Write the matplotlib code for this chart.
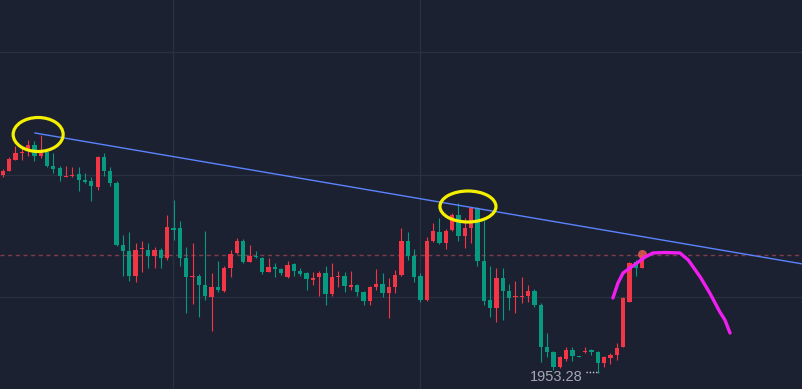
import matplotlib
matplotlib.use("Agg")
import matplotlib.pyplot as plt
from matplotlib.patches import Ellipse
import numpy as np

# OHLC (red = up, green = down)
opens = [1972.5, 1972.9, 1974.0, 1974.7, 1974.9, 1975.5, 1974.4, 1974.8, 1973.4, 1973.2,
         1972.3, 1972.4, 1972.6, 1972.0, 1971.9, 1971.3, 1974.3, 1972.9, 1971.7, 1965.5,
         1964.9, 1962.4, 1965.1, 1965.0, 1964.4, 1965.0, 1964.2, 1967.2, 1967.2, 1964.2,
         1962.3, 1962.4, 1961.5, 1960.3, 1961.3, 1960.9, 1963.2, 1964.7, 1965.9, 1963.8,
         1964.4, 1964.2, 1962.8, 1963.3, 1963.1, 1962.3, 1963.6, 1962.9, 1962.7, 1962.0,
         1962.3, 1962.7, 1960.6, 1962.3, 1962.4, 1961.3, 1961.5, 1960.8, 1959.9, 1961.3,
         1961.6, 1960.7, 1961.3, 1962.5, 1965.9, 1964.4, 1962.4, 1960.0, 1965.9, 1966.8,
         1965.7, 1967.0, 1968.5, 1966.4, 1967.2, 1969.2, 1963.9, 1960.0, 1959.2, 1962.2,
         1960.9, 1960.3, 1960.3, 1960.4, 1960.9, 1959.5, 1955.3, 1954.8, 1953.3, 1954.1,
         1955.0, 1954.4, 1954.8, 1955.0, 1954.8, 1953.7, 1954.2, 1954.5, 1955.3, 1959.8,
         1963.8, 1963.2]
highs = [1973.1, 1974.3, 1975.4, 1975.2, 1976.0, 1975.9, 1976.5, 1974.9, 1974.7, 1973.4,
         1973.4, 1973.3, 1973.3, 1972.7, 1972.3, 1974.4, 1974.7, 1973.3, 1971.9, 1966.5,
         1966.8, 1965.7, 1965.9, 1965.7, 1965.3, 1965.2, 1968.5, 1970.0, 1967.9, 1965.3,
         1965.7, 1962.6, 1966.9, 1962.7, 1963.9, 1963.4, 1965.0, 1966.2, 1966.1, 1965.5,
         1964.9, 1964.3, 1964.2, 1963.7, 1963.2, 1963.9, 1963.7, 1963.2, 1962.8, 1962.8,
         1962.9, 1963.4, 1963.7, 1962.9, 1962.8, 1962.9, 1961.6, 1960.9, 1961.4, 1963.1,
         1962.7, 1962.2, 1963.0, 1967.2, 1966.8, 1965.1, 1962.7, 1966.3, 1967.7, 1968.2,
         1967.1, 1968.7, 1969.7, 1968.2, 1969.3, 1969.3, 1968.0, 1963.4, 1963.2, 1963.2,
         1961.6, 1961.9, 1962.3, 1961.5, 1961.1, 1959.7, 1956.7, 1954.9, 1954.4, 1955.3,
         1955.3, 1954.4, 1955.3, 1955.1, 1954.9, 1954.4, 1954.7, 1955.7, 1960.3, 1963.8,
         1964.0, 1964.8]
lows = [1972.3, 1972.9, 1974.0, 1974.0, 1974.4, 1973.9, 1974.2, 1973.3, 1972.7, 1971.9,
        1972.3, 1972.3, 1970.9, 1971.7, 1969.9, 1971.0, 1972.4, 1971.4, 1965.4, 1962.4,
        1961.9, 1961.8, 1962.8, 1963.2, 1963.2, 1963.2, 1964.0, 1966.0, 1963.4, 1958.7,
        1959.6, 1958.3, 1960.0, 1956.9, 1960.8, 1960.8, 1962.3, 1964.6, 1963.7, 1963.8,
        1964.2, 1962.6, 1962.8, 1962.3, 1962.5, 1962.2, 1962.4, 1962.4, 1961.0, 1961.5,
        1960.4, 1959.5, 1960.4, 1961.3, 1960.8, 1961.0, 1960.4, 1959.5, 1959.5, 1961.0,
        1960.3, 1958.2, 1960.7, 1962.4, 1964.0, 1961.8, 1959.8, 1959.9, 1965.8, 1965.6,
        1965.1, 1966.9, 1965.9, 1965.2, 1965.7, 1963.4, 1959.5, 1958.3, 1957.8, 1958.0,
        1959.0, 1958.7, 1959.7, 1959.8, 1959.3, 1953.8, 1954.3, 1953.0, 1953.2, 1953.9,
        1953.9, 1954.3, 1954.7, 1954.5, 1952.7, 1953.3, 1953.6, 1954.0, 1955.3, 1959.8,
        1962.4, 1963.2]
closes = [1972.9, 1974.1, 1974.7, 1974.8, 1975.5, 1974.4, 1974.8, 1973.4, 1973.1, 1972.4,
          1972.4, 1972.5, 1972.0, 1971.8, 1971.4, 1974.3, 1972.9, 1971.7, 1965.5, 1964.9,
          1962.4, 1965.0, 1965.2, 1964.4, 1965.0, 1964.2, 1967.3, 1967.0, 1964.2, 1962.3,
          1962.4, 1961.5, 1960.4, 1961.3, 1961.0, 1963.2, 1964.6, 1965.9, 1963.8, 1964.4,
          1964.3, 1962.8, 1963.3, 1963.1, 1962.7, 1963.5, 1962.9, 1962.6, 1962.1, 1962.2,
          1962.7, 1960.6, 1962.3, 1962.4, 1961.4, 1961.5, 1960.8, 1959.9, 1961.3, 1961.6,
          1960.7, 1961.3, 1962.5, 1965.9, 1964.4, 1962.3, 1960.0, 1965.9, 1966.9, 1965.7,
          1966.9, 1968.5, 1966.4, 1967.2, 1969.2, 1963.9, 1959.9, 1959.2, 1962.2, 1960.9,
          1960.2, 1960.4, 1960.4, 1960.9, 1959.5, 1955.3, 1954.8, 1953.3, 1954.3, 1955.0,
          1954.4, 1954.3, 1954.9, 1954.8, 1953.7, 1954.3, 1954.5, 1955.2, 1960.2, 1963.7,
          1963.2, 1964.5]

# drawn annotations
trend_x = [5.1, 126.4]
trend_y = [1976.7, 1963.6]
circles = [(5.6, 1976.55, 7.9, 3.4), (73.5, 1969.35, 8.85, 3.1)]
curve_x = [96.4, 97.2, 98.0, 99.1, 100.2, 101.5, 102.7, 104.6, 107.0, 108.3, 110.2, 111.7, 113.3, 114.1, 114.9]
curve_y = [1960.2, 1961.7, 1962.7, 1963.2, 1963.7, 1964.3, 1964.7, 1964.75, 1964.7, 1964.0, 1962.3, 1960.7, 1958.8, 1958.0, 1956.7]
last_price = 1964.5
low_label = "1953.28"

bg = "#1b2130"
grid_c = "#283042"
up_c = "#f23645"
down_c = "#089981"

fig = plt.figure(figsize=(8.03, 3.89), dpi=100, facecolor=bg)
ax = fig.add_axes([0, 0, 1, 1])
ax.set_facecolor(bg)
ax.set_xlim(-0.427, 126.43)
ax.set_ylim(1951.1, 1990)
for s in ax.spines.values():
    s.set_visible(False)
ax.set_xticks([])
ax.set_yticks([])

for yv in [1984.8, 1972.5, 1960.3]:
    ax.axhline(yv, color=grid_c, lw=1, zorder=0)
for xv in [26.9, 65.9]:
    ax.axvline(xv, color=grid_c, lw=1, zorder=0)

o = np.array(opens)
h = np.array(highs)
l = np.array(lows)
c = np.array(closes)
idx = np.arange(len(o))
cols = np.where(c > o, up_c, down_c)

ax.vlines(idx, l, h, colors=cols, lw=0.8, zorder=2)
body = np.maximum(np.abs(c - o), 0.12)
ax.bar(idx, body, bottom=np.minimum(o, c), width=0.68, color=cols, lw=0, zorder=3)

ax.axhline(last_price, color="#7e3c49", lw=1, ls=(0, (3, 2.5)), zorder=1)
ax.plot(trend_x, trend_y, color="#5b83ff", lw=1, zorder=4)

for cx, cy, w, hh in circles:
    ax.add_patch(Ellipse((cx, cy), w, hh, fill=False, ec="#f5f000", lw=2.3, zorder=5))

ax.plot(curve_x, curve_y, color="#f01ef0", lw=2.4, solid_capstyle="round",
        solid_joinstyle="round", zorder=6)
ax.plot([101.0], [1964.6], "o", ms=5.5, color="#e0574f", alpha=0.85, zorder=5)

ax.text(83.3, 1952.3, low_label, color="#a4a8b2", fontsize=10.5,
        family="Liberation Sans", va="center", ha="left", zorder=7)
ax.plot([92.15, 94.2], [1952.8, 1952.8], color="#d0d3da", lw=1, ls=(0, (1, 1.3)), zorder=7)

fig.savefig("out.png", dpi=100, facecolor=bg)
